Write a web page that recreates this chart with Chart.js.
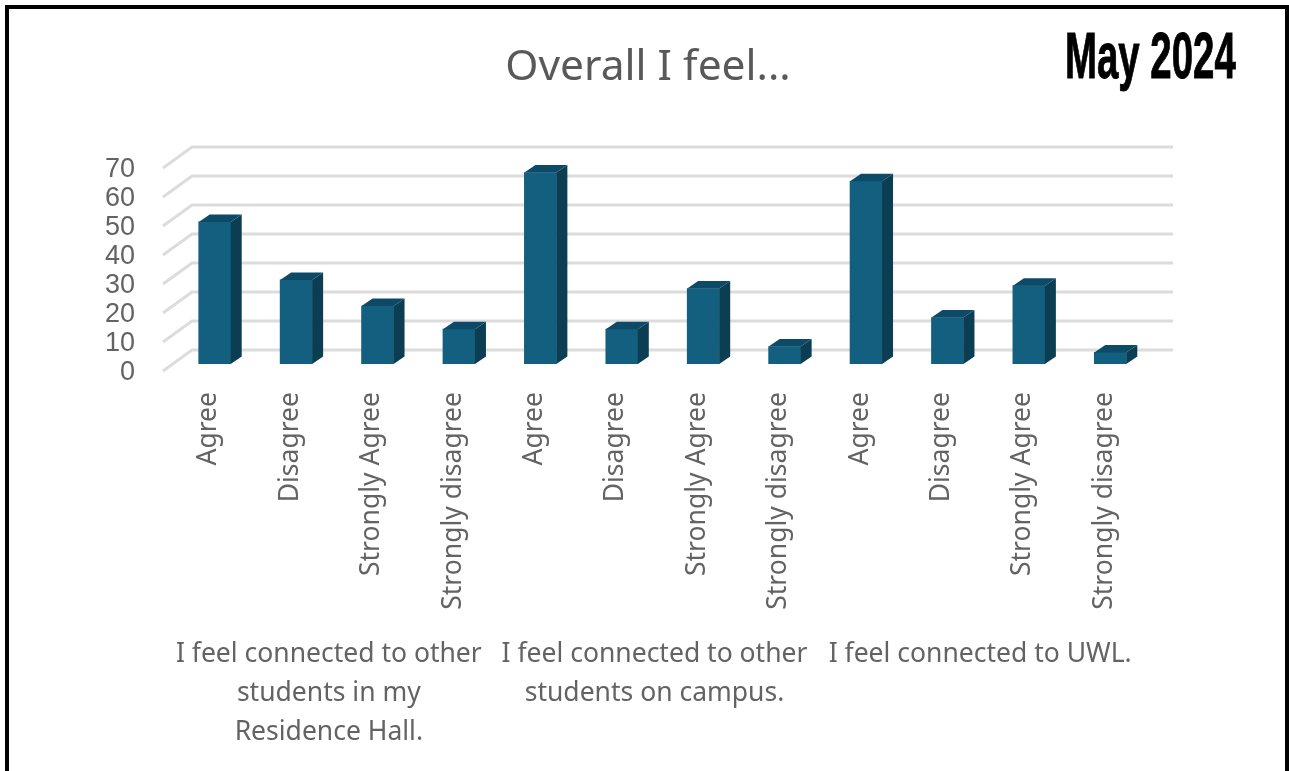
<!DOCTYPE html>
<html>
<head>
<meta charset="utf-8">
<title>Overall I feel...</title>
<script src="https://cdn.jsdelivr.net/npm/chart.js@4"></script>
<style>
  html, body { margin: 0; padding: 0; background: #fff; overflow: hidden; }
  #wrap { position: relative; width: 1289px; height: 771px; }
  #frame { position: absolute; left: 5px; top: 5px; width: 1276px; height: 800px; border: 4px solid #000; }
  #stamp { position: absolute; left: 1065px; top: 19px; font: bold 64px "Liberation Sans", sans-serif; color: #000; -webkit-text-stroke: 1px #000; white-space: nowrap; transform-origin: left top; transform: scaleX(0.6); }
  canvas { position: absolute; left: 0; top: 0; }
</style>
</head>
<body>
<div id="wrap">
  <canvas id="chart" width="1289" height="771"></canvas>
  <div id="frame"></div>
  <div id="stamp">May 2024</div>
</div>
<script>
const answers = ['Agree', 'Disagree', 'Strongly Agree', 'Strongly disagree',
                 'Agree', 'Disagree', 'Strongly Agree', 'Strongly disagree',
                 'Agree', 'Disagree', 'Strongly Agree', 'Strongly disagree'];
const percents = [49, 29, 20, 12, 66, 12, 26, 6, 63, 16, 27, 4];
const groups = [
  ['I feel connected to other', 'students in my', 'Residence Hall.'],
  ['I feel connected to other', 'students on campus.'],
  ['I feel connected to UWL.']
];

const textFont = '"Noto Sans", sans-serif';
const gray = '#636363';

// back wall gridlines and the fake 3d faces of the bars
const depth3d = {
  id: 'depth3d',
  beforeDatasetsDraw(chart) {
    const { ctx, scales, chartArea } = chart;
    ctx.save();
    ctx.strokeStyle = '#dcdcdc';
    ctx.lineWidth = 3;
    scales.y.ticks.forEach(t => {
      const y = scales.y.getPixelForValue(t.value);
      ctx.beginPath();
      ctx.moveTo(chartArea.left - 11, y + 7);
      ctx.lineTo(chartArea.left + 18, y - 14);
      ctx.lineTo(chartArea.right + 22, y - 14);
      ctx.stroke();
    });
    ctx.restore();
  },
  afterDatasetsDraw(chart) {
    const { ctx } = chart;
    const dx = 11, dy = 7.5;
    ctx.save();
    chart.getDatasetMeta(0).data.forEach(bar => {
      const right = bar.x + bar.width / 2;
      const left = bar.x - bar.width / 2;
      ctx.fillStyle = '#0b3d53';
      ctx.beginPath();
      ctx.moveTo(right, bar.y);
      ctx.lineTo(right + dx, bar.y - dy);
      ctx.lineTo(right + dx, bar.base - dy);
      ctx.lineTo(right, bar.base);
      ctx.closePath();
      ctx.fill();
      ctx.fillStyle = '#0d4a68';
      ctx.beginPath();
      ctx.moveTo(left, bar.y);
      ctx.lineTo(left + dx, bar.y - dy);
      ctx.lineTo(right + dx, bar.y - dy);
      ctx.lineTo(right, bar.y);
      ctx.closePath();
      ctx.fill();
    });
    ctx.restore();
  }
};

new Chart(document.getElementById('chart'), {
  type: 'bar',
  data: {
    labels: answers,
    datasets: [{ data: percents, backgroundColor: '#135f80', barThickness: 32, xAxisID: 'x', yAxisID: 'y' }]
  },
  plugins: [depth3d],
  options: {
    responsive: false,
    animation: false,
    layout: { padding: { right: 0, left: 7, top: 0, bottom: 0 } },
    plugins: {
      legend: { display: false },
      tooltip: { enabled: false },
      title: {
        display: true,
        text: 'Overall I feel...',
        color: '#595959',
        font: { family: textFont, size: 42.5, weight: 'normal', lineHeight: 1.2 },
        padding: { top: 42, bottom: 68 }
      }
    },
    scales: {
      y: {
        min: 0,
        max: 70,
        afterFit(s) { s.width = 167; },
        grid: { display: false },
        border: { display: false },
        ticks: {
          autoSkip: false,
          stepSize: 10,
          padding: 31,
          labelOffset: 9,
          color: gray,
          font: { family: '"Liberation Sans", sans-serif', size: 27 }
        }
      },
      // empty axis, only keeps the room right of the plot
      yRight: {
        position: 'right',
        afterFit(s) { s.width = 138; },
        grid: { display: false },
        border: { display: false },
        ticks: { display: false }
      },
      x: {
        afterFit(s) { s.height = 250; },
        grid: { display: false },
        border: { display: false },
        ticks: {
          autoSkip: false,
          minRotation: 90,
          maxRotation: 90,
          padding: 20,
          labelOffset: -6,
          color: gray,
          font: { family: textFont, size: 26.5 }
        }
      },
      x2: {
        type: 'category',
        labels: groups,
        position: 'bottom',
        afterFit(s) { s.height = 157; },
        grid: { display: false },
        border: { display: false },
        ticks: {
          autoSkip: false,
          minRotation: 0,
          maxRotation: 0,
          padding: 13,
          labelOffset: -8,
          color: gray,
          font: { family: textFont, size: 26.5, lineHeight: 1.47 }
        }
      }
    }
  }
});
</script>
</body>
</html>
